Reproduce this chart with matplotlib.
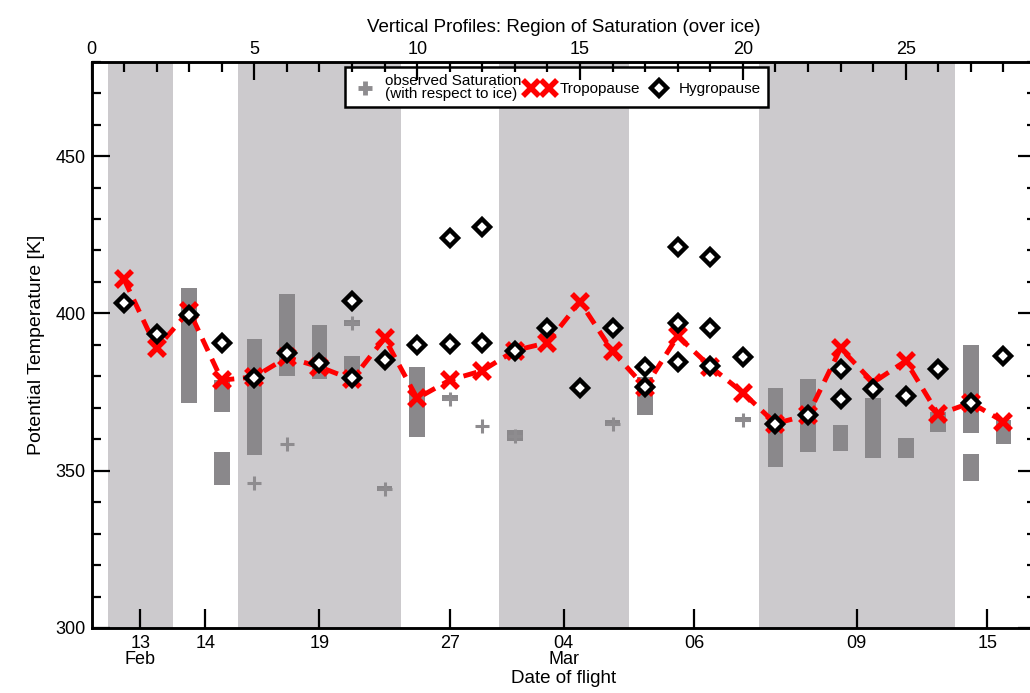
import matplotlib
matplotlib.use("Agg")
import matplotlib.pyplot as plt
from matplotlib.lines import Line2D
from matplotlib.legend_handler import HandlerLine2D

plt.rcParams['font.family'] = ['Liberation Sans', 'DejaVu Sans']

# ---- data ----
band_edges = [(0.5, 2.5), (4.5, 9.5), (12.5, 16.5), (20.5, 26.5)]
date_pos = [1.5, 3.5, 7, 11, 14.5, 18.5, 23.5, 27.5]
date_labels = ['13\nFeb', '14', '19', '27', '04\nMar', '06', '09', '15']

trop_x = list(range(1, 29))
trop_y = [410.8, 388.9, 400.8, 378.8, 379.8, 386.0, 383.0, 379.0, 392.1, 373.0,
          378.8, 381.8, 388.2, 390.7, 403.7, 387.9, 376.5, 392.8, 383.1, 374.8,
          365.0, 367.7, 388.9, 378.0, 384.9, 367.9, 371.6, 365.6]

hyg_x = [1, 2, 3, 4, 5, 6, 7, 8, 8, 9, 10, 11, 11, 12, 12, 13, 14, 15, 16,
         17, 17, 18, 18, 18, 19, 19, 19, 20, 21, 22, 23, 23, 24, 25, 26, 27, 28]
hyg_y = [403.2, 393.4, 399.5, 390.5, 379.4, 387.3, 384.1, 404.0, 379.4, 385.2,
         390.0, 424.1, 390.3, 427.6, 390.5, 388.2, 395.3, 376.4, 395.3,
         383.1, 376.5, 421.2, 396.9, 384.7, 418.0, 395.3, 383.3, 386.0,
         365.0, 367.7, 382.3, 372.8, 375.9, 373.8, 382.3, 371.6, 386.5]

box_x = [3, 4, 4, 5, 6, 7, 8, 8, 9, 10, 11, 13, 16, 17, 20,
         21, 22, 23, 24, 25, 26, 27, 27, 28]
box_lo = [371.4, 368.6, 345.5, 355.0, 380.2, 379.3, 378.8, 396.0, 343.5, 360.8, 372.0,
          359.5, 364.2, 367.7, 365.6, 351.3, 356.0, 356.3, 354.1, 353.9, 362.4,
          361.9, 346.7, 358.4]
box_hi = [408.0, 378.8, 356.1, 391.8, 406.1, 396.3, 386.5, 398.0, 345.0, 383.1, 374.0,
          362.8, 366.0, 379.7, 367.0, 376.2, 379.1, 364.5, 373.0, 360.3, 368.8,
          390.0, 355.2, 366.0]

plus_x = [5, 6, 8, 9, 11, 12, 13, 16, 20]
plus_y = [346.2, 358.5, 396.9, 344.1, 372.8, 364.2, 361.0, 365.0, 366.1]

# ---- figure ----
fig = plt.figure(figsize=(10.30, 6.93), dpi=100)
ax = fig.add_axes([91.5/1030, 1 - 628/693, (1036 - 91.5)/1030, (628 - 61.7)/693])

for a, b in band_edges:
    ax.axvspan(a, b, color='#cccacd', lw=0, zorder=0)

ax.bar(box_x, [h - l for h, l in zip(box_hi, box_lo)], bottom=box_lo,
       width=0.48, color='#8a888b', lw=0, zorder=2)
ax.plot(plus_x, plus_y, ls='none', marker='+', ms=10, mew=2.2,
        color='#8e8c8f', zorder=3)
ax.plot(trop_x, trop_y, ls=(0, (2.8, 1.8)), lw=3.5, color='#ff0000', zorder=4)
ax.plot(trop_x, trop_y, ls='none', marker='x', ms=12, mew=4,
        color='#ff0000', zorder=5)
ax.plot(hyg_x, hyg_y, ls='none', marker='D', ms=7.8, mew=3.2,
        mfc='white', mec='black', zorder=6)

ax.set_xlim(0, 29)
ax.set_ylim(300, 480)

ax.set_xticks(date_pos)
ax.set_xticklabels(date_labels, fontsize=13, linespacing=0.95)
ax.set_yticks([300, 350, 400, 450])
ax.set_yticks(range(300, 481, 10), minor=True)
ax.tick_params(axis='y', which='major', direction='in', length=13, width=1.6,
               labelsize=13, right=True, pad=4)
ax.tick_params(axis='y', which='minor', direction='in', length=6.5, width=1.6,
               right=True)
ax.tick_params(axis='x', which='major', direction='in', length=13.5, width=1.6,
               pad=5)
ax.set_xlabel('Date of flight', fontsize=13.5, labelpad=1)
ax.set_ylabel('Potential Temperature [K]', fontsize=14, labelpad=8)

ax2 = ax.twiny()
ax2.set_xlim(0, 29)
ax2.set_xticks([0, 5, 10, 15, 20, 25])
ax2.set_xticks(range(0, 30), minor=True)
ax2.tick_params(axis='x', which='major', direction='in', length=13, width=1.6,
                labelsize=13, pad=3)
ax2.tick_params(axis='x', which='minor', direction='in', length=7, width=1.6)
ax2.set_xlabel('Vertical Profiles: Region of Saturation (over ice)',
               fontsize=13.5, labelpad=6)

for a in (ax, ax2):
    for s in a.spines.values():
        s.set_linewidth(1.8)

h_plus = Line2D([], [], ls='none', marker='+', ms=10, mew=3.5, color='#8e8c8f')
h_trop = Line2D([], [], ls='none', marker='x', ms=12, mew=4, color='#ff0000')
h_hyg = Line2D([], [], ls='none', marker='D', ms=7.8, mew=3.2, mfc='white', mec='black')
leg = ax.legend([h_plus, h_trop, h_hyg],
                ['observed Saturation\n(with respect to ice)', 'Tropopause', 'Hygropause'],
                ncol=3, loc='upper center', bbox_to_anchor=(0.492, 0.99),
                fontsize=11, frameon=True, fancybox=False, framealpha=1,
                edgecolor='black', borderpad=0.45, columnspacing=0.3,
                handletextpad=0.4, handlelength=1.8, borderaxespad=0,
                handler_map={h_trop: HandlerLine2D(numpoints=2)}, numpoints=1)
leg.get_frame().set_linewidth(1.8)
leg.set_zorder(10)
for t in leg.get_texts():
    t.set_linespacing(0.85)

fig.savefig('out.png', dpi=100)
